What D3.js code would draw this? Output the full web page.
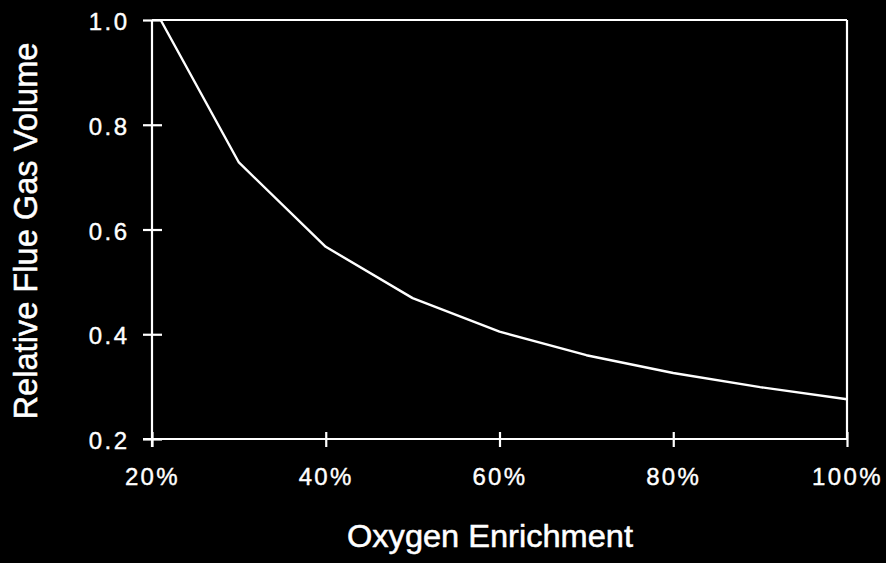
<!DOCTYPE html>
<html>
<head>
<meta charset="utf-8">
<script src="https://cdn.jsdelivr.net/npm/d3@7"></script>
<style>
  html, body { margin: 0; padding: 0; background: #000; }
  svg { display: block; }
</style>
</head>
<body>
<svg id="chart" width="886" height="563"></svg>
<script>
// Oxygen concentration of the oxidant (%) and relative flue gas volume
const oxygenPct = [21, 30, 40, 50, 60, 70, 80, 90, 100];
const flueGasVolume = [1.0, 0.728, 0.567, 0.469, 0.405, 0.360, 0.326, 0.299, 0.276];

const xTickValues = [20, 40, 60, 80, 100];
const xTickLabels = ["20%", "40%", "60%", "80%", "100%"];
const yTickValues = [0.2, 0.4, 0.6, 0.8, 1.0];
const yTickLabels = ["0.2", "0.4", "0.6", "0.8", "1.0"];

const xTitle = "Oxygen Enrichment";
const yTitle = "Relative Flue Gas Volume";

const svg = d3.select("#chart");
const W = 886, H = 563;
svg.append("rect").attr("width", W).attr("height", H).attr("fill", "#000");

const plot = { left: 152, right: 847, top: 20, bottom: 439 };

const x = d3.scaleLinear().domain([20, 100]).range([plot.left, plot.right]);
const y = d3.scaleLinear().domain([0.2, 1.0]).range([plot.bottom, plot.top]);

const ink = "#fff";
const tickFont = "'Liberation Sans', Arial, Helvetica, sans-serif";

// Frame: top and right borders
const frame = svg.append("g").attr("stroke", ink).attr("stroke-width", 2.2).attr("fill", "none");
frame.append("line").attr("x1", x(20)).attr("x2", x(100)).attr("y1", y(1.0)).attr("y2", y(1.0));
frame.append("line").attr("x1", x(100)).attr("x2", x(100)).attr("y1", y(1.0)).attr("y2", y(0.2));

// Y axis with ticks crossing the axis line
const yAxis = d3.axisLeft(y)
  .tickValues(yTickValues)
  .tickFormat((d, i) => yTickLabels[i])
  .tickSizeInner(9)
  .tickSizeOuter(0);
const gy = svg.append("g").attr("transform", `translate(${plot.left},0)`).call(yAxis);
gy.select(".domain").attr("stroke", ink).attr("stroke-width", 2.2)
  .attr("d", `M0,${y(1.0)}V${y(0.2) + 8}`);
gy.selectAll(".tick line").attr("stroke", ink).attr("stroke-width", 2.2).attr("x2", -9).attr("x1", 10);
gy.selectAll(".tick text")
  .attr("fill", ink)
  .attr("stroke", ink)
  .attr("stroke-width", 0.4)
  .attr("font-family", tickFont)
  .attr("font-size", 24)
  .attr("letter-spacing", 2.4)
  .attr("dy", "0.4em")
  .attr("x", -22.6);

// X axis with ticks crossing the axis line
const xAxis = d3.axisBottom(x)
  .tickValues(xTickValues)
  .tickFormat((d, i) => xTickLabels[i])
  .tickSizeInner(8)
  .tickSizeOuter(0);
const gx = svg.append("g").attr("transform", `translate(0,${plot.bottom})`).call(xAxis);
gx.select(".domain").attr("stroke", ink).attr("stroke-width", 2.2)
  .attr("d", `M${plot.left - 9},0H${plot.right}`);
gx.selectAll(".tick line").attr("stroke", ink).attr("stroke-width", 2.2).attr("y1", -7).attr("y2", 8);
gx.selectAll(".tick text")
  .attr("fill", ink)
  .attr("stroke", ink)
  .attr("stroke-width", 0.4)
  .attr("font-family", tickFont)
  .attr("font-size", 24)
  .attr("letter-spacing", 2.4)
  .attr("text-anchor", "middle")
  .attr("dy", 0)
  .attr("y", 46);

// Curve
const line = d3.line().x((d, i) => x(oxygenPct[i])).y(d => y(d));
svg.append("path")
  .datum(flueGasVolume)
  .attr("d", line)
  .attr("fill", "none")
  .attr("stroke", ink)
  .attr("stroke-width", 2.4)
  .attr("stroke-linejoin", "round");

// Axis titles
const titleFont = "'Liberation Sans Narrow', 'Arial Narrow', 'Liberation Sans', Arial, sans-serif";
svg.append("text")
  .attr("x", 490)
  .attr("y", 547)
  .attr("text-anchor", "middle")
  .attr("fill", ink)
  .attr("stroke", ink)
  .attr("stroke-width", 0.5)
  .attr("font-family", titleFont)
  .attr("font-size", 31)
  .attr("textLength", 286)
  .attr("lengthAdjust", "spacingAndGlyphs")
  .text(xTitle);

svg.append("text")
  .attr("transform", "translate(37,231) rotate(-90)")
  .attr("text-anchor", "middle")
  .attr("fill", ink)
  .attr("stroke", ink)
  .attr("stroke-width", 0.5)
  .attr("font-family", titleFont)
  .attr("font-size", 34)
  .attr("textLength", 377)
  .attr("lengthAdjust", "spacingAndGlyphs")
  .text(yTitle);
</script>
</body>
</html>
